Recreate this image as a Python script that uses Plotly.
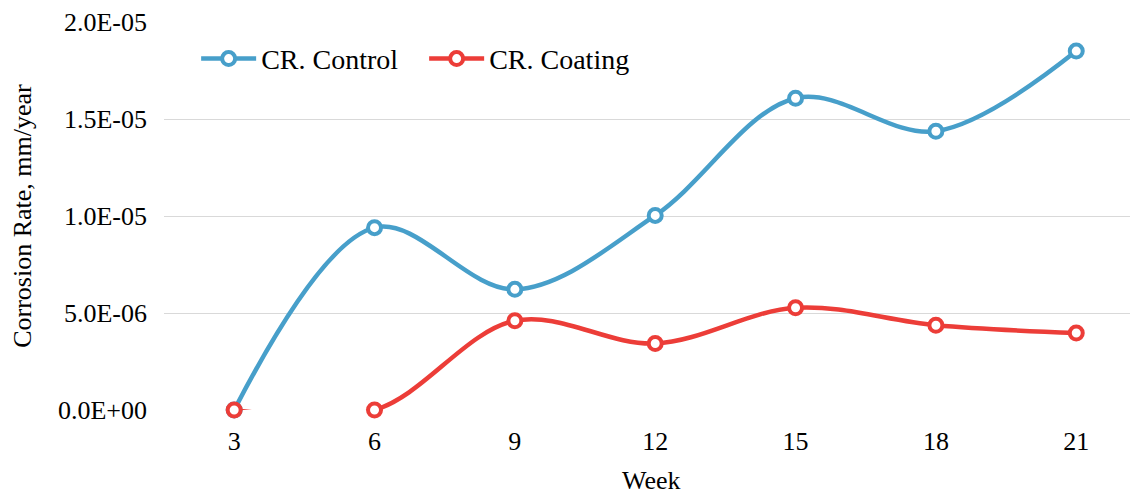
import plotly.graph_objects as go

weeks = [3, 6, 9, 12, 15, 18, 21]
cr_control = [0.0, 9.4e-6, 6.22e-6, 1.003e-5, 1.607e-5, 1.437e-5, 1.85e-5]
cr_coating = [0.0, 0.0, 4.6e-6, 3.43e-6, 5.27e-6, 4.37e-6, 3.97e-6]
y_ticks = [0, 5e-6, 1e-5, 1.5e-5, 2e-5]
y_ticktext = ["0.0E+00", "5.0E-06", "1.0E-05", "1.5E-05", "2.0E-05"]

FONT = "Liberation Serif, Times New Roman, serif"
c_control = "#479FCA"
c_coating = "#EC3D38"

fig = go.Figure()
fig.add_trace(go.Scatter(
    x=weeks, y=cr_control, name="CR. Control", mode="lines+markers",
    line=dict(color=c_control, width=4.5, shape="spline", smoothing=1.0),
    marker=dict(symbol="circle", size=13, color="white",
                line=dict(color=c_control, width=4)),
    cliponaxis=False,
))
fig.add_trace(go.Scatter(
    x=weeks, y=cr_coating, name="CR. Coating", mode="lines+markers",
    line=dict(color=c_coating, width=4.5, shape="spline", smoothing=1.0),
    marker=dict(symbol="circle", size=13, color="white",
                line=dict(color=c_coating, width=4)),
    cliponaxis=False,
))

fig.update_layout(
    width=1130, height=487,
    margin=dict(l=156, r=0, t=14, b=85),
    paper_bgcolor="white", plot_bgcolor="white",
    font=dict(family=FONT, size=26, color="black"),
    showlegend=True,
    legend=dict(orientation="h", x=0.033, y=0.905, xanchor="left", yanchor="middle",
                font=dict(family=FONT, size=28), bgcolor="rgba(0,0,0,0)",
                itemwidth=55, tracegroupgap=0, entrywidth=158),
    xaxis=dict(range=[1.5, 22.32], tickvals=weeks, ticktext=[str(w) for w in weeks],
               showgrid=False, zeroline=False, showline=False, ticks="",
               tickfont=dict(family=FONT, size=26), ticklabelstandoff=13),
    yaxis=dict(range=[0, 2e-5], tickvals=y_ticks, ticktext=y_ticktext,
               showgrid=True, gridcolor="#D9D9D9", gridwidth=1.3,
               zeroline=False, showline=False, ticks="",
               tickfont=dict(family=FONT, size=26), ticklabelstandoff=16),
    annotations=[
        dict(text="Week", xref="paper", yref="paper", x=0.5, y=-0.182,
             xanchor="center", yanchor="middle", showarrow=False,
             font=dict(family=FONT, size=26)),
        dict(text="Corrosion Rate, mm/year", xref="paper", yref="paper",
             x=-0.146, y=0.5, xanchor="center", yanchor="middle", textangle=-90,
             showarrow=False, font=dict(family=FONT, size=26)),
    ],
)

fig.write_html("out.html")
